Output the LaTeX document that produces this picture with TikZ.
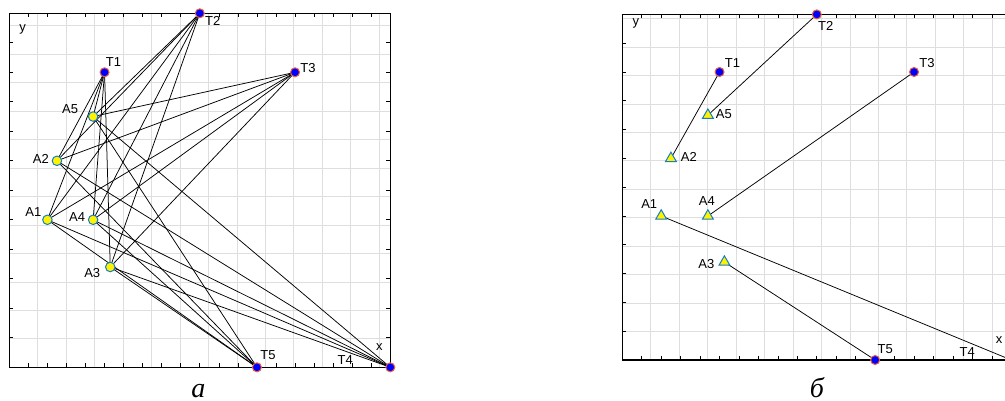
\documentclass[tikz,border=0pt]{standalone}
\usepackage{fontspec}
\setmainfont{Liberation Sans}
\newfontfamily\capfont{Liberation Serif}
\usetikzlibrary{shapes.geometric}
\definecolor{tred}{RGB}{235,95,55}
\definecolor{ablue}{RGB}{20,125,205}
\definecolor{gridgray}{RGB}{222,222,222}

\begin{document}
\begin{tikzpicture}[
    gridline/.style={gridgray,line width=0.8pt},
    tickmark/.style={black,line width=0.7pt},
    frame/.style={black,line width=1.2pt},
    link/.style={black,line width=0.75pt},
    tpt/.style={circle,fill=blue,draw=tred,line width=1pt,inner sep=0pt,minimum size=9pt},
    apt/.style={circle,fill=yellow,draw=ablue,line width=1pt,inner sep=0pt,minimum size=9.5pt},
    atri/.style={regular polygon,regular polygon sides=3,fill=yellow,draw=ablue,line width=1pt,inner sep=0pt,minimum size=12.5pt},
    lbl/.style={font=\fontsize{13}{13}\selectfont,inner sep=0pt},
    capt/.style={font=\capfont\itshape\fontsize{28}{28}\selectfont,inner sep=0pt,anchor=base}
]
\useasboundingbox (0,0) rectangle (1005pt,400pt);
\clip (0,0) rectangle (1005pt,400pt);

% panel a: every A linked to every T
\begin{scope}[shift={(9.3pt,32.7pt)},x=19.05pt,y=29.5pt]
    \draw [gridline] (0,0) grid (20,12);
    \foreach \i in {1,...,19} {
        \draw [tickmark] (\i,0) -- ++(0pt,4pt);
        \draw [tickmark] (\i,12) -- ++(0pt,-4pt);
    }
    \foreach \j in {1,...,11} {
        \draw [tickmark] (0,\j) -- ++(4pt,0pt);
        \draw [tickmark] (20,\j) -- ++(-4pt,0pt);
    }
    \draw [frame] (0,0) rectangle (20,12);
    \coordinate (aT1) at (5,10);
    \coordinate (aT2) at (10,12);
    \coordinate (aT3) at (15,10);
    \coordinate (aT4) at (20,0);
    \coordinate (aT5) at (13,0);
    \coordinate (aA1) at (2,5);
    \coordinate (aA2) at (2.5,7);
    \coordinate (aA3) at (5.3,3.4);
    \coordinate (aA4) at (4.4,5);
    \coordinate (aA5) at (4.4,8.5);
    \foreach \t in {T1,T2,T3,T4,T5}
        \foreach \s in {A1,A2,A3,A4,A5}
            \draw [link] (a\t) -- (a\s);
    \foreach \t in {T1,T2,T3,T4,T5}
        \node [tpt] (ma\t) at (a\t) {};
    \foreach \s in {A1,A2,A3,A4,A5}
        \node [apt] (ma\s) at (a\s) {};
    \foreach \p/\dx/\dy in {T1/9/10,T2/13/-8,T3/13/4,T4/-45/7,T5/11/12,
                            A1/-14/8,A2/-16/2,A3/-18/-6,A4/-16/3,A5/-23/7}
        \node [lbl] (la\p) at ([shift={(\dx pt,\dy pt)}]a\p) {\p};
    \node [lbl] (ay) at (0.7,11.46) {y};
    \node [lbl] (ax) at (19.42,0.7) {x};
\end{scope}

% panel b: chosen pairs only
\begin{scope}[shift={(622.3pt,40pt)},x=19.45pt,y=28.8pt]
    \draw [gridline] (0,0) grid (20,12);
    \foreach \i in {1,...,19} {
        \draw [tickmark] (\i,0) -- ++(0pt,4pt);
        \draw [tickmark] (\i,12) -- ++(0pt,-4pt);
    }
    \foreach \j in {1,...,11}
        \draw [tickmark] (0,\j) -- ++(4pt,0pt);
    \draw [frame] (0,0) rectangle (20,12);
    \coordinate (bT1) at (5,10);
    \coordinate (bT2) at (10,12);
    \coordinate (bT3) at (15,10);
    \coordinate (bT4) at (20,0);
    \coordinate (bT5) at (13,0);
    \coordinate (bA1) at (2,5);
    \coordinate (bA2) at (2.5,7);
    \coordinate (bA3) at (5.25,3.4);
    \coordinate (bA4) at (4.4,5);
    \coordinate (bA5) at (4.4,8.5);
    \foreach \s/\t in {A2/T1,A5/T2,A4/T3,A3/T5,A1/T4}
        \draw [link] (b\s) -- (b\t);
    \foreach \t in {T1,T2,T3,T4,T5}
        \node [tpt] (mb\t) at (b\t) {};
    \foreach \s in {A1,A2,A3,A4,A5}
        \node [atri] (mb\s) at (b\s) {};
    \foreach \p/\dx/\dy in {T1/13/9,T2/9/-12,T3/13/9,T4/-44/8,T5/10/11,
                            A1/-12/12,A2/18/1,A3/-18/-2,A4/-1/15,A5/16/1}
        \node [lbl] (lb\p) at ([shift={(\dx pt,\dy pt)}]b\p) {\p};
    \node [lbl] (by) at (0.7,11.69) {y};
    \node [lbl] (bx) at (19.37,0.69) {x};
\end{scope}

\node [capt] (capa) at (198.3pt,3pt) {а};
\node [capt] (capb) at (817pt,3pt) {б};
\end{tikzpicture}
\end{document}
